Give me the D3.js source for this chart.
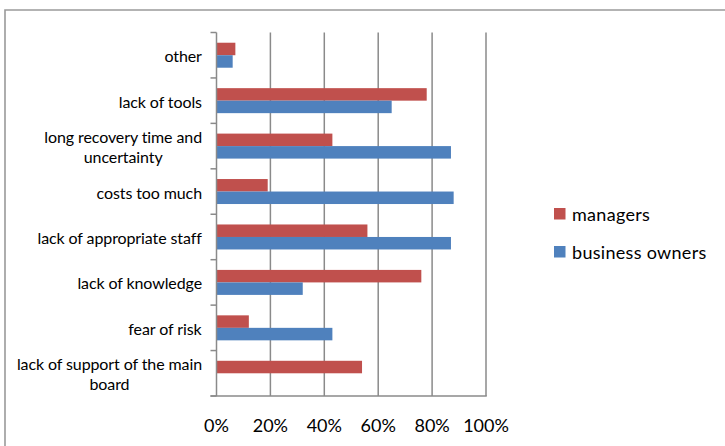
<!DOCTYPE html>
<html>
<head>
<meta charset="utf-8">
<script src="https://cdn.jsdelivr.net/npm/d3@7"></script>
<style>
  html, body { margin: 0; padding: 0; background: #fff; }
  svg { display: block; }
  text { font-family: Lato, "Open Sans", sans-serif; fill: #000; }
</style>
</head>
<body>
<svg id="chart" width="725" height="446"></svg>
<script>
const categories = [
  "other",
  "lack of tools",
  "long recovery time and|uncertainty",
  "costs too much",
  "lack of appropriate staff",
  "lack of knowledge",
  "fear of risk",
  "lack of support of the main|board"
];
const seriesNames = ["managers", "business owners"];
const managers       = [0.07, 0.78, 0.43, 0.19, 0.56, 0.76, 0.12, 0.54];
const businessOwners = [0.06, 0.65, 0.87, 0.88, 0.87, 0.32, 0.43, 0.00];
const xTicks = [0, 0.2, 0.4, 0.6, 0.8, 1.0];
const colors = ["#C0504D", "#4F81BD"];

const svg = d3.select("#chart");

// outer border
svg.append("path")
  .attr("d", "M5,446 L5,10 L725,10")
  .attr("fill", "none").attr("stroke", "#9a9a9a").attr("stroke-width", 1.6);

const x = d3.scaleLinear().domain([0, 1]).range([216.5, 486]);
const y = d3.scaleBand().domain(categories).range([32.5, 396])
  .paddingInner(0.45).paddingOuter(0.225);
const ySub = d3.scaleBand().domain(seriesNames).range([0, y.bandwidth()]);

const data = categories.map((c, i) => ({ cat: c, values: [managers[i], businessOwners[i]] }));

// gridlines
svg.append("g").selectAll("line").data(xTicks.slice(1)).join("line")
  .attr("x1", d => x(d)).attr("x2", d => x(d))
  .attr("y1", y.range()[0]).attr("y2", y.range()[1])
  .attr("stroke", "#8a8a8a").attr("stroke-width", 1.5);

// bars
const groups = svg.append("g").selectAll("g").data(data).join("g")
  .attr("transform", d => `translate(0,${y(d.cat)})`);
groups.selectAll("rect").data(d => d.values.map((v, j) => ({ v, s: seriesNames[j], j })))
  .join("rect")
  .attr("x", x(0))
  .attr("y", d => ySub(d.s))
  .attr("width", d => x(d.v) - x(0))
  .attr("height", ySub.bandwidth())
  .attr("fill", d => colors[d.j]);

// left axis line and category ticks
const step = y.step();
const y0 = y.range()[0];
svg.append("line")
  .attr("x1", x(0)).attr("x2", x(0)).attr("y1", y0).attr("y2", y.range()[1])
  .attr("stroke", "#8a8a8a").attr("stroke-width", 1.5);
svg.append("g").selectAll("line").data(d3.range(categories.length + 1)).join("line")
  .attr("x1", x(0) - 6).attr("x2", x(0))
  .attr("y1", i => y0 + i * step).attr("y2", i => y0 + i * step)
  .attr("stroke", "#8a8a8a").attr("stroke-width", 1.5);
// bottom axis line
svg.append("line")
  .attr("x1", x(0) - 6).attr("x2", x(1) + 0.75).attr("y1", y.range()[1]).attr("y2", y.range()[1])
  .attr("stroke", "#8a8a8a").attr("stroke-width", 1.5);

// category labels
const labelG = svg.append("g");
data.forEach(d => {
  const lines = d.cat.split("|");
  const cy = y(d.cat) + y.bandwidth() / 2;
  const t = labelG.append("text")
    .attr("font-size", 16)
    .attr("letter-spacing", "-0.1px")
    .attr("dominant-baseline", "central");
  lines.forEach((ln, k) => {
    t.append("tspan").text(ln)
      .attr("y", cy + (k - (lines.length - 1) / 2) * 20)
      .attr("x", 0);
  });
  // right-align block, center lines within block
  const bb = t.node().getBBox();
  const right = 202;
  const cx = right - bb.width / 2;
  t.attr("text-anchor", "middle");
  t.selectAll("tspan").attr("x", cx);
});

// x tick labels
svg.append("g").selectAll("text").data(xTicks).join("text")
  .attr("x", d => x(d)).attr("y", 425)
  .attr("text-anchor", "middle").attr("dominant-baseline", "central")
  .attr("font-size", 18)
  .text(d3.format(".0%"));

// legend
const legend = svg.append("g").selectAll("g").data(seriesNames).join("g")
  .attr("transform", (d, i) => `translate(554,${208 + i * 38})`);
legend.append("rect").attr("width", 11.5).attr("height", 11.5).attr("fill", (d, i) => colors[i]);
legend.append("text").attr("x", 18).attr("y", 5.5)
  .attr("dominant-baseline", "central").attr("font-size", 18)
  .attr("letter-spacing", "0.3px")
  .text(d => d);
</script>
</body>
</html>
